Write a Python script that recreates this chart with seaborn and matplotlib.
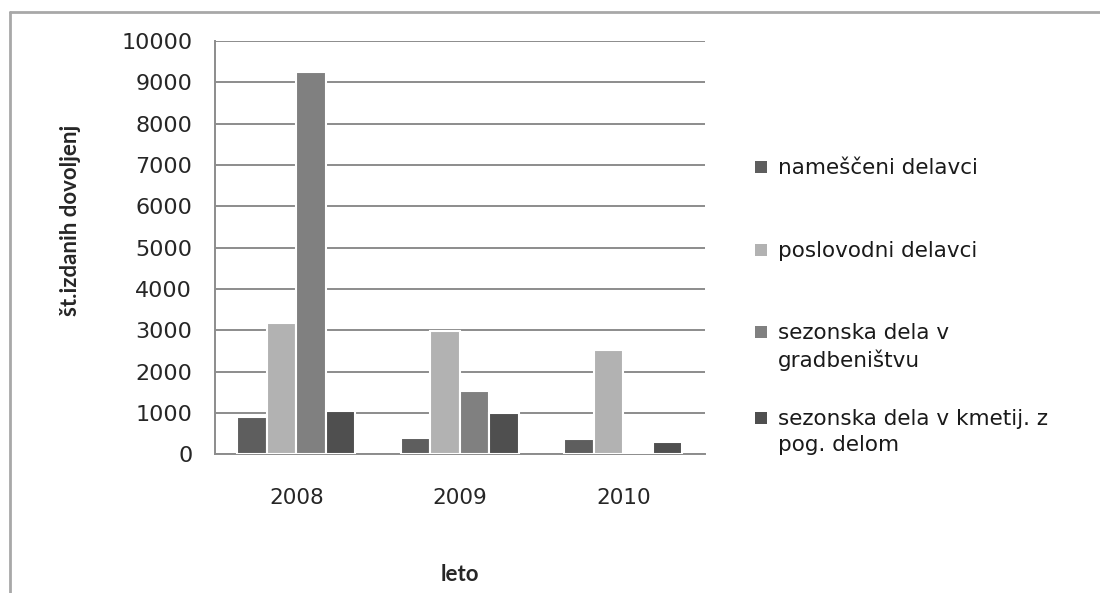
import numpy as np
import pandas as pd
import matplotlib
matplotlib.use('Agg')
import matplotlib.pyplot as plt
from matplotlib.patches import Rectangle
from matplotlib.lines import Line2D
import seaborn as sns

# data
years = ['2008', '2009', '2010']
series = ['nameščeni delavci', 'poslovodni delavci',
          'sezonska dela v\ngradbeništvu', 'sezonska dela v kmetij. z\npog. delom']
nameski = [900, 400, 360]
poslovodni = [3170, 2970, 2520]
gradbenistvo = [9250, 1540, 0]
kmetijstvo = [1050, 1000, 300]
colors = ['#5e5e5e', '#b2b2b2', '#808080', '#4f4f4f']

rows = []
for name, vals in zip(series, [nameski, poslovodni, gradbenistvo, kmetijstvo]):
    for y, v in zip(years, vals):
        rows.append({'leto': y, 'serija': name, 'vrednost': v})
df = pd.DataFrame(rows)

sns.set_style('white')
plt.rcParams['font.family'] = ['DejaVu Sans']

W, H = 1100, 593
fig = plt.figure(figsize=(W / 100, H / 100), dpi=100)
ax = fig.add_axes([0.195, 0.234, 0.446, 0.697])

sns.barplot(data=df, x='leto', y='vrednost', hue='serija', hue_order=series,
            palette=colors, width=0.72, edgecolor='white', linewidth=1.5,
            saturation=1, legend=False, ax=ax, zorder=3)

ax.set_ylim(0, 10000)
ax.set_xlim(-0.5, 2.5)
ax.set_yticks(np.arange(0, 10001, 1000))
ax.yaxis.grid(True, color='#8c8c8c', linewidth=1.4, zorder=0)
ax.set_axisbelow(True)

# category boundary ticks on the x axis
ax.set_xticks([-0.5, 0.5, 1.5, 2.5], minor=True)
ax.tick_params(axis='x', which='minor', length=8, width=1.4, color='#8c8c8c', direction='out')
ax.tick_params(axis='x', which='major', length=0, pad=24, labelsize=15.5)
ax.tick_params(axis='y', length=12, width=1.4, color='#8c8c8c', direction='out', pad=4,
               labelsize=16)

for s in ['top', 'right']:
    ax.spines[s].set_visible(False)
for s in ['left', 'bottom']:
    ax.spines[s].set_color('#8c8c8c')
    ax.spines[s].set_linewidth(1.4)

ax.set_xlabel('leto', fontsize=16, fontweight='bold', family='Lato')
ax.set_ylabel('št.izdanih dovoljenj', fontsize=16, fontweight='bold', family='Lato')
ax.yaxis.set_label_coords(-0.273, 0.565)
ax.xaxis.set_label_coords(0.5, -0.265)

# legend, Excel style: entries evenly spaced by their first line
entry_y = [167, 250, 332, 418]  # pixel rows of first text line
for name, c, yp in zip(series, colors, entry_y):
    fig.add_artist(Rectangle((755 / W, 1 - (yp + 6) / H), 12 / W, 12 / H,
                             facecolor=c, edgecolor='none', transform=fig.transFigure))
    fig.text(778 / W, 1 - (yp - 9) / H, name, fontsize=15.5, color='#1a1a1a',
             va='top', ha='left', linespacing=1.35)

# outer chart frame (left and top edges visible)
fig.add_artist(Line2D([0.009, 0.009], [0, 0.98], color='#a8a8a8', linewidth=2,
                      transform=fig.transFigure))
fig.add_artist(Line2D([0.009, 1.0], [0.98, 0.98], color='#a8a8a8', linewidth=2,
                      transform=fig.transFigure))

fig.savefig('out.png', dpi=100)
